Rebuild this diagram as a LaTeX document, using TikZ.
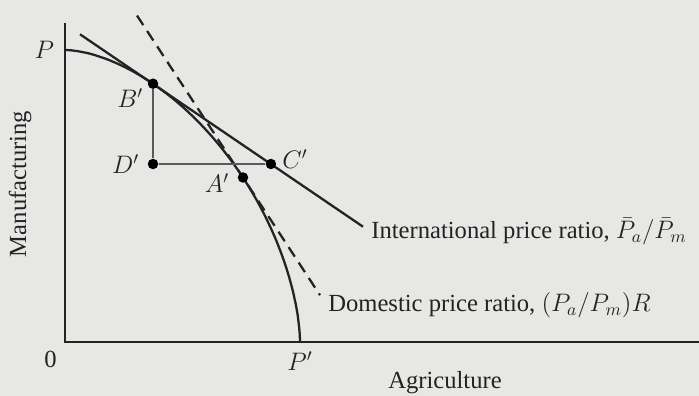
\documentclass[tikz,border=0pt]{standalone}
\usepackage{fontspec}
\setmainfont{Liberation Serif}
\usetikzlibrary{positioning}
\definecolor{scanbg}{RGB}{231,231,229}
\definecolor{inkgray}{RGB}{35,35,35}
\definecolor{guidegray}{RGB}{90,90,90}

\begin{document}
\begin{tikzpicture}[font=\fontsize{14}{16}\selectfont,
    axis/.style={inkgray,line width=0.9pt},
    curve/.style={inkgray,line width=1.3pt},
    guide/.style={guidegray,line width=0.8pt},
    dot/.style={circle,fill=black,inner sep=0pt,minimum size=0.21cm},
    lbl/.style={inkgray,inner sep=0.16cm}]
    \fill[scanbg] (-1.3,-1.08) rectangle (12.68,6.84);
    \useasboundingbox (-1.3,-1.08) rectangle (12.68,6.84);
    \coordinate (O) at (0,0);
    \coordinate (ytop) at (0,6.38);
    \coordinate (xend) at (12.68,0);
    \coordinate (P) at (0,5.84);
    \coordinate (Pp) at (4.7,0);
    \coordinate (intlstart) at (0.3,6.154);
    \coordinate (intlend) at (5.96,2.306);
    \coordinate (domstart) at (1.44,6.529);
    \coordinate (domend) at (5.1,0.937);
    \draw[axis] (ytop) -- (O) -- (xend);
    \draw[curve] (P) -- plot[domain=89.5:0.5,samples=90,smooth]
        ({4.7*cos(\x)^(2/1.7)},{5.84*sin(\x)^(2/1.7)}) -- (Pp);
    \draw[curve] (intlstart) -- (intlend);
    \draw[curve,dash pattern=on 6.5pt off 4pt] (domstart) -- (domend);
    \node[dot] (Bp) at (1.76,5.166) {};
    \node[dot] (Dp) at (1.76,3.56) {};
    \node[dot] (Cp) at (4.118,3.56) {};
    \node[dot] (Ap) at (3.56,3.29) {};
    \draw[guide] (Bp) -- (Dp) -- (Cp);
    \node[lbl,below left=-0.15cm and -0.05cm of Bp] (Bplbl) {$B'$};
    \node[lbl,left=0cm of Dp] (Dplbl) {$D'$};
    \node[lbl,right=-0.05cm of Cp,yshift=0.1cm] (Cplbl) {$C'$};
    \node[lbl,left=0cm of Ap,yshift=-0.12cm] (Aplbl) {$A'$};
    \node[lbl,left=0.05cm of P] (Plbl) {$P$};
    \node[lbl,below=0.02cm of Pp] (Pplbl) {$P'$};
    \node[lbl,below left=0.02cm and 0cm of O] (Olbl) {0};
    \node[lbl,right=0cm of intlend,yshift=-0.1cm] (intllbl)
        {International price ratio, $\bar{P}_a/\bar{P}_m$};
    \node[lbl,right=0cm of domend,yshift=-0.2cm] (domlbl)
        {Domestic price ratio, $(P_a/P_m)R$};
    \node[lbl,rotate=90] (ylbl) at (-0.9,3.16) {Manufacturing};
    \node[lbl] (xlbl) at (7.6,-0.82) {Agriculture};
\end{tikzpicture}
\end{document}
